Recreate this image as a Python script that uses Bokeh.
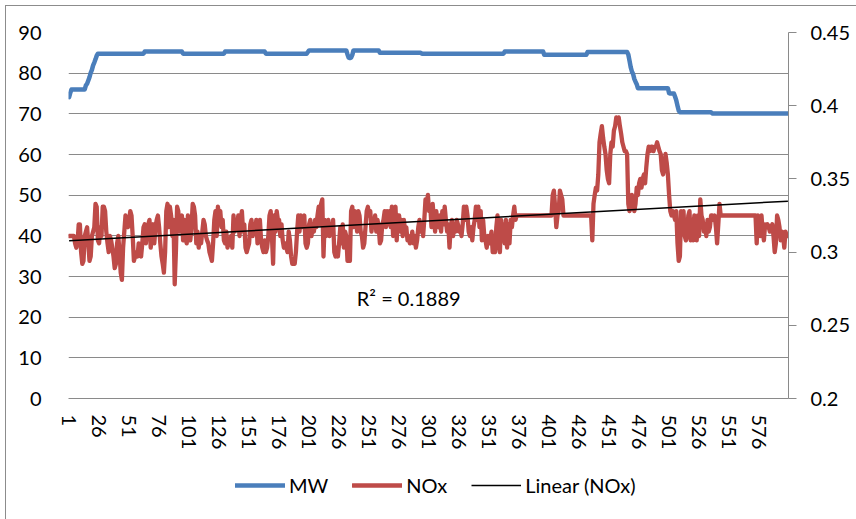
import numpy as np
from bokeh.plotting import figure
from bokeh.layouts import column
from bokeh.models import Range1d, LinearAxis, FixedTicker, Legend, LegendItem, Label
from bokeh.embed import file_html
from bokeh.resources import INLINE

# MW (left axis), one value per sample 1..600
mw = [
    74.1, 75.2, 76.0, 76.0, 76.0, 76.0, 76.0, 76.0, 76.0, 76.0, 76.0, 76.0, 76.0, 76.0, 77.0, 77.4, 78.2, 79.0, 80.1, 80.8, 81.9, 82.6, 83.4, 84.3, 84.8,
    84.8, 84.8, 84.8, 84.8, 84.8, 84.8, 84.8, 84.8, 84.8, 84.8, 84.8, 84.8, 84.8, 84.8, 84.8, 84.8, 84.8, 84.8, 84.8, 84.8, 84.8, 84.8, 84.8, 84.8, 84.8,
    84.8, 84.8, 84.8, 84.8, 84.8, 84.8, 84.8, 84.8, 84.8, 84.8, 84.8, 84.8, 84.8, 85.3, 85.3, 85.3, 85.3, 85.3, 85.3, 85.3, 85.3, 85.3, 85.3, 85.3, 85.3,
    85.3, 85.3, 85.3, 85.3, 85.3, 85.3, 85.3, 85.3, 85.3, 85.3, 85.3, 85.3, 85.3, 85.3, 85.3, 85.3, 85.3, 85.3, 85.3, 85.3, 84.8, 84.8, 84.8, 84.8, 84.8,
    84.8, 84.8, 84.8, 84.8, 84.8, 84.8, 84.8, 84.8, 84.8, 84.8, 84.8, 84.8, 84.8, 84.8, 84.8, 84.8, 84.8, 84.8, 84.8, 84.8, 84.8, 84.8, 84.8, 84.8, 84.8,
    84.8, 84.8, 84.8, 84.8, 84.8, 85.3, 85.3, 85.3, 85.3, 85.3, 85.3, 85.3, 85.3, 85.3, 85.3, 85.3, 85.3, 85.3, 85.3, 85.3, 85.3, 85.3, 85.3, 85.3, 85.3,
    85.3, 85.3, 85.3, 85.3, 85.3, 85.3, 85.3, 85.3, 85.3, 85.3, 85.3, 85.3, 85.3, 85.3, 84.8, 84.8, 84.8, 84.8, 84.8, 84.8, 84.8, 84.8, 84.8, 84.8, 84.8,
    84.8, 84.8, 84.8, 84.8, 84.8, 84.8, 84.8, 84.8, 84.8, 84.8, 84.8, 84.8, 84.8, 84.8, 84.8, 84.8, 84.8, 84.8, 84.8, 84.8, 84.8, 84.8, 84.8, 84.8, 85.2,
    85.6, 85.6, 85.6, 85.6, 85.6, 85.6, 85.6, 85.6, 85.6, 85.6, 85.6, 85.6, 85.6, 85.6, 85.6, 85.6, 85.6, 85.6, 85.6, 85.6, 85.6, 85.6, 85.6, 85.6, 85.6,
    85.6, 85.6, 85.6, 85.6, 85.6, 85.6, 85.6, 84.6, 83.8, 83.7, 83.8, 84.5, 85.6, 85.6, 85.6, 85.6, 85.6, 85.6, 85.6, 85.6, 85.6, 85.6, 85.6, 85.6, 85.6,
    85.6, 85.6, 85.6, 85.6, 85.6, 85.6, 85.6, 85.6, 85.6, 85.0, 85.0, 85.0, 85.0, 85.0, 85.0, 85.0, 85.0, 85.0, 85.0, 85.0, 85.0, 85.0, 85.0, 85.0, 85.0,
    85.0, 85.0, 85.0, 85.0, 85.0, 85.0, 85.0, 85.0, 85.0, 85.0, 85.0, 85.0, 85.0, 85.0, 85.0, 85.0, 85.0, 85.0, 85.0, 84.8, 84.8, 84.8, 84.8, 84.8, 84.8,
    84.8, 84.8, 84.8, 84.8, 84.8, 84.8, 84.8, 84.8, 84.8, 84.8, 84.8, 84.8, 84.8, 84.8, 84.8, 84.8, 84.8, 84.8, 84.8, 84.8, 84.8, 84.8, 84.8, 84.8, 84.8,
    84.8, 84.8, 84.8, 84.8, 84.8, 84.8, 84.8, 84.8, 84.8, 84.8, 84.8, 84.8, 84.8, 84.8, 84.8, 84.8, 84.8, 84.8, 84.8, 84.8, 84.8, 84.8, 84.8, 84.8, 84.8,
    84.8, 84.8, 84.8, 84.8, 84.8, 84.8, 84.8, 84.8, 84.8, 84.8, 84.8, 84.8, 84.8, 85.3, 85.3, 85.3, 85.3, 85.3, 85.3, 85.3, 85.3, 85.3, 85.3, 85.3, 85.3,
    85.3, 85.3, 85.3, 85.3, 85.3, 85.3, 85.3, 85.3, 85.3, 85.3, 85.3, 85.3, 85.3, 85.3, 85.3, 85.3, 85.3, 85.3, 85.3, 85.3, 85.3, 84.5, 84.5, 84.5, 84.5,
    84.5, 84.5, 84.5, 84.5, 84.5, 84.5, 84.5, 84.5, 84.5, 84.5, 84.5, 84.5, 84.5, 84.5, 84.5, 84.5, 84.5, 84.5, 84.5, 84.5, 84.5, 84.5, 84.5, 84.5, 84.5,
    84.5, 84.5, 84.5, 84.5, 84.5, 84.5, 84.5, 85.2, 85.2, 85.2, 85.2, 85.2, 85.2, 85.2, 85.2, 85.2, 85.2, 85.2, 85.2, 85.2, 85.2, 85.2, 85.2, 85.2, 85.2,
    85.2, 85.2, 85.2, 85.2, 85.2, 85.2, 85.2, 85.2, 85.2, 85.2, 85.2, 85.2, 85.2, 85.2, 85.2, 85.2, 84.6, 83.1, 81.5, 80.4, 79.8, 78.6, 77.9, 77.3, 76.3,
    76.3, 76.3, 76.3, 76.3, 76.3, 76.3, 76.3, 76.3, 76.3, 76.3, 76.3, 76.3, 76.3, 76.3, 76.3, 76.3, 76.3, 76.3, 76.3, 76.3, 76.3, 76.3, 76.3, 76.3, 76.3,
    75.1, 75.0, 75.0, 75.0, 75.0, 74.2, 73.3, 72.0, 70.8, 70.4, 70.4, 70.4, 70.4, 70.4, 70.4, 70.4, 70.4, 70.4, 70.4, 70.4, 70.4, 70.4, 70.4, 70.4, 70.4,
    70.4, 70.4, 70.4, 70.4, 70.4, 70.4, 70.4, 70.4, 70.4, 70.4, 70.4, 70.1, 70.1, 70.1, 70.1, 70.1, 70.1, 70.1, 70.1, 70.1, 70.1, 70.1, 70.1, 70.1, 70.1,
    70.1, 70.1, 70.1, 70.1, 70.1, 70.1, 70.1, 70.1, 70.1, 70.1, 70.1, 70.1, 70.1, 70.1, 70.1, 70.1, 70.1, 70.1, 70.1, 70.1, 70.1, 70.1, 70.1, 70.1, 70.1,
    70.1, 70.1, 70.1, 70.1, 70.1, 70.1, 70.1, 70.1, 70.1, 70.1, 70.1, 70.1, 70.1, 70.1, 70.1, 70.1, 70.1, 70.1, 70.1, 70.1, 70.1, 70.1, 70.1, 70.1, 70.1,
]

# NOx (right axis), one value per sample 1..600
nox = [
    0.311, 0.311, 0.311, 0.311, 0.311, 0.306, 0.303, 0.306, 0.319, 0.319, 0.300, 0.292, 0.294, 0.311, 0.314, 0.317, 0.306, 0.294, 0.297, 0.311, 0.314, 0.317, 0.333, 0.331, 0.308,
    0.306, 0.317, 0.311, 0.331, 0.331, 0.328, 0.314, 0.306, 0.300, 0.311, 0.308, 0.303, 0.297, 0.289, 0.292, 0.306, 0.311, 0.300, 0.286, 0.281, 0.303, 0.314, 0.325, 0.322, 0.317,
    0.322, 0.328, 0.325, 0.311, 0.294, 0.297, 0.300, 0.297, 0.306, 0.300, 0.297, 0.306, 0.317, 0.319, 0.306, 0.317, 0.319, 0.322, 0.303, 0.311, 0.319, 0.306, 0.317, 0.322, 0.325,
    0.317, 0.306, 0.297, 0.292, 0.286, 0.300, 0.328, 0.333, 0.317, 0.331, 0.325, 0.311, 0.322, 0.278, 0.300, 0.331, 0.328, 0.314, 0.322, 0.325, 0.308, 0.322, 0.311, 0.306, 0.325,
    0.319, 0.308, 0.317, 0.333, 0.331, 0.325, 0.306, 0.314, 0.303, 0.311, 0.306, 0.314, 0.322, 0.319, 0.311, 0.308, 0.306, 0.300, 0.297, 0.294, 0.306, 0.322, 0.328, 0.311, 0.331,
    0.325, 0.328, 0.317, 0.322, 0.308, 0.306, 0.314, 0.303, 0.308, 0.306, 0.311, 0.303, 0.325, 0.314, 0.322, 0.317, 0.325, 0.311, 0.322, 0.328, 0.314, 0.319, 0.303, 0.300, 0.303,
    0.306, 0.319, 0.322, 0.311, 0.319, 0.314, 0.322, 0.306, 0.314, 0.322, 0.308, 0.303, 0.300, 0.308, 0.300, 0.303, 0.311, 0.325, 0.328, 0.311, 0.292, 0.325, 0.314, 0.328, 0.322,
    0.322, 0.311, 0.319, 0.308, 0.303, 0.306, 0.303, 0.300, 0.314, 0.308, 0.297, 0.292, 0.294, 0.292, 0.300, 0.314, 0.325, 0.314, 0.325, 0.317, 0.322, 0.325, 0.306, 0.303, 0.306,
    0.319, 0.322, 0.311, 0.319, 0.314, 0.322, 0.317, 0.325, 0.331, 0.319, 0.333, 0.336, 0.297, 0.322, 0.311, 0.319, 0.322, 0.311, 0.319, 0.314, 0.322, 0.300, 0.297, 0.303, 0.297,
    0.306, 0.317, 0.306, 0.319, 0.303, 0.314, 0.311, 0.294, 0.297, 0.294, 0.328, 0.331, 0.317, 0.328, 0.322, 0.314, 0.328, 0.325, 0.314, 0.311, 0.303, 0.306, 0.317, 0.328, 0.331,
    0.325, 0.328, 0.314, 0.322, 0.317, 0.325, 0.314, 0.322, 0.317, 0.306, 0.308, 0.319, 0.322, 0.328, 0.317, 0.328, 0.319, 0.328, 0.317, 0.331, 0.311, 0.328, 0.331, 0.308, 0.325,
    0.325, 0.314, 0.322, 0.311, 0.322, 0.314, 0.317, 0.308, 0.311, 0.306, 0.308, 0.314, 0.306, 0.311, 0.303, 0.308, 0.317, 0.322, 0.314, 0.319, 0.311, 0.322, 0.336, 0.333, 0.339,
    0.328, 0.331, 0.317, 0.333, 0.322, 0.314, 0.328, 0.319, 0.317, 0.325, 0.314, 0.328, 0.319, 0.331, 0.322, 0.314, 0.319, 0.303, 0.317, 0.322, 0.311, 0.319, 0.314, 0.322, 0.319,
    0.314, 0.317, 0.311, 0.319, 0.331, 0.322, 0.331, 0.325, 0.314, 0.311, 0.317, 0.308, 0.317, 0.322, 0.331, 0.322, 0.331, 0.317, 0.328, 0.308, 0.322, 0.311, 0.308, 0.303, 0.311,
    0.306, 0.308, 0.314, 0.300, 0.303, 0.300, 0.317, 0.325, 0.306, 0.300, 0.322, 0.308, 0.319, 0.306, 0.322, 0.303, 0.319, 0.306, 0.322, 0.317, 0.325, 0.331, 0.322, 0.325, 0.325,
    0.325, 0.325, 0.325, 0.325, 0.325, 0.325, 0.325, 0.325, 0.325, 0.325, 0.325, 0.325, 0.325, 0.325, 0.325, 0.325, 0.325, 0.325, 0.325, 0.325, 0.325, 0.325, 0.325, 0.325, 0.325,
    0.325, 0.325, 0.325, 0.339, 0.342, 0.331, 0.317, 0.325, 0.328, 0.342, 0.339, 0.336, 0.325, 0.325, 0.325, 0.325, 0.325, 0.325, 0.325, 0.325, 0.325, 0.325, 0.325, 0.325, 0.325,
    0.325, 0.325, 0.325, 0.325, 0.325, 0.325, 0.325, 0.325, 0.325, 0.325, 0.325, 0.308, 0.333, 0.339, 0.344, 0.342, 0.353, 0.375, 0.381, 0.386, 0.378, 0.372, 0.367, 0.356, 0.350,
    0.347, 0.367, 0.375, 0.372, 0.383, 0.386, 0.392, 0.389, 0.392, 0.386, 0.381, 0.375, 0.372, 0.369, 0.369, 0.367, 0.333, 0.328, 0.331, 0.339, 0.336, 0.328, 0.333, 0.344, 0.339,
    0.347, 0.350, 0.344, 0.350, 0.353, 0.347, 0.358, 0.367, 0.372, 0.369, 0.372, 0.372, 0.369, 0.372, 0.372, 0.375, 0.372, 0.369, 0.367, 0.356, 0.353, 0.358, 0.367, 0.361, 0.353,
    0.339, 0.328, 0.325, 0.328, 0.325, 0.322, 0.328, 0.306, 0.294, 0.297, 0.328, 0.325, 0.328, 0.311, 0.308, 0.311, 0.325, 0.328, 0.308, 0.322, 0.308, 0.325, 0.319, 0.308, 0.325,
    0.311, 0.336, 0.325, 0.322, 0.314, 0.319, 0.311, 0.322, 0.314, 0.317, 0.325, 0.325, 0.322, 0.325, 0.317, 0.306, 0.319, 0.333, 0.325, 0.325, 0.325, 0.325, 0.325, 0.325, 0.325,
    0.325, 0.325, 0.325, 0.325, 0.325, 0.325, 0.325, 0.325, 0.325, 0.325, 0.325, 0.325, 0.325, 0.325, 0.325, 0.325, 0.325, 0.325, 0.325, 0.325, 0.325, 0.325, 0.325, 0.306, 0.325,
    0.322, 0.311, 0.325, 0.314, 0.308, 0.319, 0.317, 0.319, 0.317, 0.314, 0.317, 0.319, 0.311, 0.300, 0.306, 0.325, 0.322, 0.317, 0.308, 0.314, 0.311, 0.303, 0.314, 0.311, 0.311,
]

x_ticks = [1, 26, 51, 76, 101, 126, 151, 176, 201, 226, 251, 276, 301, 326, 351, 376, 401, 426, 451, 476, 501, 526, 551, 576]
x_tick_labels = ["1", "26", "51", "76", "101", "126", "151", "176", "201", "226", "251", "276",
                 "301", "326", "351", "376", "401", "426", "451", "476", "501", "526", "551", "576"]
left_ticks = [0, 10, 20, 30, 40, 50, 60, 70, 80, 90]
left_tick_labels = ["0", "10", "20", "30", "40", "50", "60", "70", "80", "90"]
right_ticks = [0.2, 0.25, 0.3, 0.35, 0.4, 0.45]
right_tick_labels = ["0.2", "0.25", "0.3", "0.35", "0.4", "0.45"]
series_names = ["MW", "NOx", "Linear (NOx)"]
r2_text = "R\u00b2 = 0.1889"

FONT = "Lato"
FS = "20px"
GRID = "#8a8a8a"
C_MW = "#4a7ebb"
C_NOX = "#be4b48"

x_mw = list(range(1, len(mw) + 1))
x_nox = list(range(1, len(nox) + 1))
n = max(len(mw), len(nox))

p = figure(width=850, height=460, frame_width=720, frame_height=366,
           output_backend="svg", toolbar_location=None,
           x_range=Range1d(0.5, n + 0.5), y_range=Range1d(0, 90),
           min_border_left=62, min_border_right=68, min_border_top=26, min_border_bottom=68)
p.background_fill_color = "white"
p.border_fill_color = "white"
p.outline_line_color = None
p.extra_y_ranges = {"nox": Range1d(0.2, 0.45)}

# left axis
ya = p.yaxis[0]
ya.ticker = FixedTicker(ticks=left_ticks)
ya.major_label_overrides = dict(zip(left_ticks, left_tick_labels))
ya.axis_line_color = None
ya.major_tick_line_color = None
ya.minor_tick_line_color = None
ya.major_label_standoff = 21
ya.major_label_text_font = FONT
ya.major_label_text_font_size = FS
ya.major_label_text_color = "black"

# right axis
ra = LinearAxis(y_range_name="nox")
ra.ticker = FixedTicker(ticks=right_ticks)
ra.major_label_overrides = dict(zip(right_ticks, right_tick_labels))
ra.axis_line_color = GRID
ra.major_tick_line_color = GRID
ra.major_tick_out = 8
ra.major_tick_in = 0
ra.minor_tick_line_color = None
ra.major_label_standoff = 14
ra.major_label_text_font = FONT
ra.major_label_text_font_size = FS
ra.major_label_text_color = "black"
p.add_layout(ra, "right")

# bottom axis
xa = p.xaxis[0]
xa.ticker = FixedTicker(ticks=x_ticks)
xa.major_label_overrides = dict(zip(x_ticks, x_tick_labels))
xa.major_label_orientation = "vertical"
xa.axis_line_color = GRID
xa.major_tick_line_color = None
xa.minor_tick_line_color = None
xa.major_tick_out = 0
xa.major_label_standoff = 16
xa.major_label_text_font = FONT
xa.major_label_text_font_size = FS
xa.major_label_text_color = "black"

p.xgrid.visible = False
p.ygrid.ticker = FixedTicker(ticks=left_ticks)
p.ygrid.grid_line_color = GRID
p.ygrid.grid_line_width = 1

r_mw = p.line(x_mw, mw, line_color=C_MW, line_width=4.5, line_join="round", line_cap="round")
r_nox = p.line(x_nox, nox, line_color=C_NOX, line_width=4.3, line_join="round", line_cap="round",
               y_range_name="nox")

coef = np.polyfit(np.array(x_nox, dtype=float), np.array(nox, dtype=float), 1)
xt = [x_nox[0], x_nox[-1]]
yt = list(np.polyval(coef, xt))
r_tr = p.line(xt, yt, line_color="black", line_width=1.5, y_range_name="nox")

p.add_layout(Label(x=284, y=24.6, text=r2_text, text_align="center", text_baseline="middle",
                   text_font=FONT, text_font_size=FS, text_color="black"))

# legend strip below the chart: key lines share the series styles but hold no visible data
lf = figure(width=850, height=53, output_backend="svg", toolbar_location=None,
            x_range=Range1d(0, 1), y_range=Range1d(0, 1),
            x_axis_location=None, y_axis_location=None, min_border=0)
lf.grid.visible = False
lf.outline_line_color = None
lf.background_fill_color = "white"
lf.border_fill_color = "white"
nan = float("nan")
k_mw = lf.line([nan], [nan], line_color=C_MW, line_width=4.5, line_cap="round")
k_nox = lf.line([nan], [nan], line_color=C_NOX, line_width=4.3, line_cap="round")
k_tr = lf.line([nan], [nan], line_color="black", line_width=1.5)
legend = Legend(items=[LegendItem(label=series_names[0], renderers=[k_mw]),
                       LegendItem(label=series_names[1], renderers=[k_nox]),
                       LegendItem(label=series_names[2], renderers=[k_tr])],
                orientation="horizontal", location=(167, 22),
                glyph_width=50, glyph_height=20, label_standoff=4, spacing=24,
                padding=0, margin=0, border_line_alpha=0, background_fill_alpha=0,
                label_text_font=FONT, label_text_font_size=FS, label_text_color="black")
lf.add_layout(legend)

layout = column(p, lf, spacing=0)
layout.margin = (5, 0, 0, 5)
layout.styles = {"border-left": "1px solid #8c8c8c", "border-top": "1px solid #8c8c8c"}

open("out.html", "w").write(file_html(layout, INLINE))
